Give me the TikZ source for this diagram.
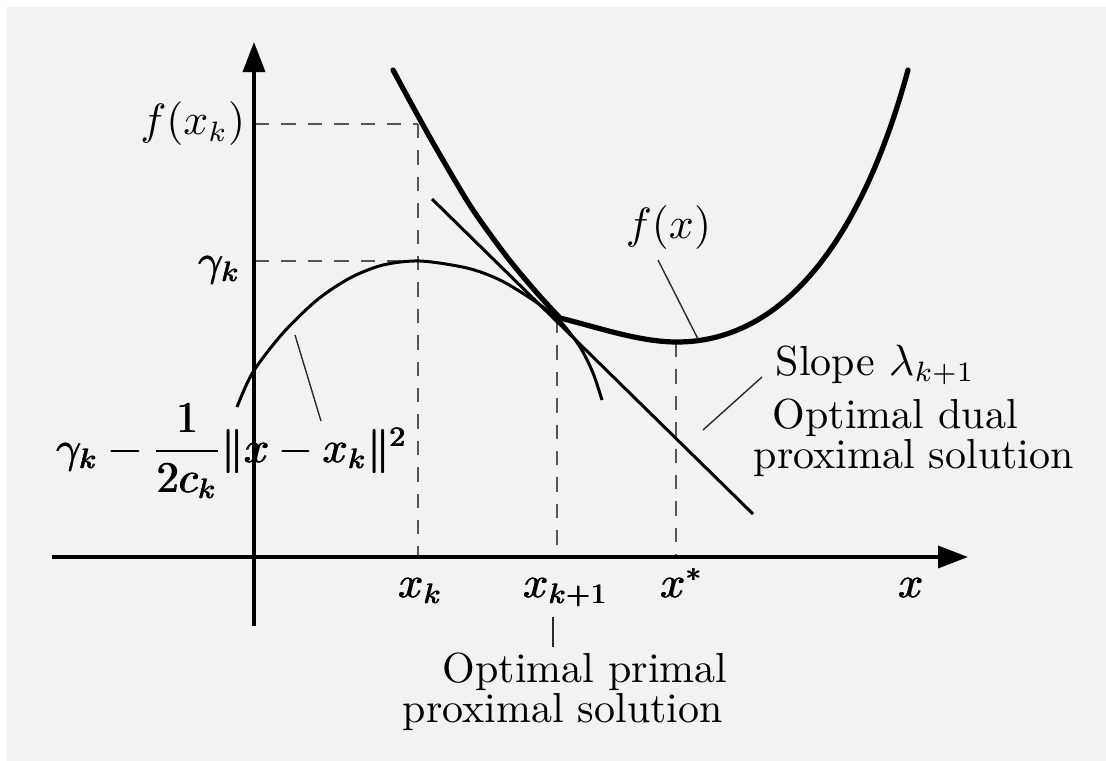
\documentclass[tikz,border=0pt]{standalone}
\usepackage{amsmath,amssymb}
\usepackage{tikz}
\usetikzlibrary{arrows.meta,positioning}
\definecolor{paper}{HTML}{F2F2F2}
\definecolor{ink}{HTML}{000000}
\definecolor{guidegray}{HTML}{555555}
\definecolor{leadgray}{HTML}{2A2A2A}
% heavier print of the math labels
\newcommand{\heavy}[1]{\leavevmode\rlap{#1}\hbox to 0pt{\kern0.28pt#1\hss}#1}
\newcommand{\proxquad}{\gamma_k-\dfrac{1}{2c_k}\|x-x_k\|^2}

\begin{document}
\begin{tikzpicture}[x=0.25pt,y=-0.25pt,
    axisline/.style={ink,line width=0.9pt,-{Triangle[length=7.5pt,width=5.5pt]}},
    fcurve/.style={ink,line width=1.3pt,line join=round,line cap=round},
    thincurve/.style={ink,line width=0.75pt},
    guide/.style={guidegray,line width=0.45pt,dash pattern=on 3.6pt off 3pt},
    leader/.style={leadgray,line width=0.35pt},
    lbl/.style={inner sep=0pt,font=\fontsize{10.5}{12.6}\selectfont}]
  \useasboundingbox (0,0) rectangle (1106,761);
  \fill[paper] (7,7) rectangle (1106,761);

  % Guides from the curves to the axes.
  \draw[guide] (255,124) -- (418,124);
  \draw[guide] (255,261) -- (418,261);
  \draw[guide] (418,124) -- (418,557);
  \draw[guide] (557,319) -- (557,557);
  \draw[guide] (676,343) -- (676,557);

  % Axes.
  \draw[axisline] (52,557) -- (968,557);
  \draw[axisline] (254,626) -- (254,42);

  % Quadratic of the proximal step and its supporting line.
  \draw[thincurve] plot[smooth] coordinates {(237,407) (253,372) (283,333)
    (317,300) (350,278) (383,265) (420,261) (467,268) (500,280) (533,300)
    (559,320) (580,347) (593,373) (602,400)};
  \draw[thincurve] (432,199) -- (753,514);

  % The cost function, with a kink at x_{k+1}.
  \draw[fcurve] plot[smooth] coordinates {(393,70) (423,125) (447,167)
    (473,210) (507,257) (537,293) (560,318)}
    .. controls (600,328) and (640,342) .. (677,342)
    .. controls (780,342) and (860,246) .. (908,70);

  % Labels.
  \node[lbl,anchor=east] (fxk) at (246,124) {$f(x_k)$};
  \node[lbl,anchor=base east] (gk) at (241,275) {\heavy{$\gamma_k$}};
  \node[lbl,anchor=base west] (xk) at (397,597) {\heavy{$x_k$}};
  \node[lbl,anchor=base west] (xk1) at (522,597) {\heavy{$x_{k+1}$}};
  \node[lbl,anchor=base west] (xstar) at (659,597) {\heavy{$x^*$}};
  \node[lbl,anchor=base west] (xaxis) at (897,597) {\heavy{$x$}};
  \node[lbl,anchor=base west] (fx) at (625,238) {$f(x)$};
  \node[lbl,anchor=base west] (quad) at (55,462) {\heavy{$\proxquad$}};
  \node[lbl,anchor=base west] (slope) at (775,375) {Slope $\lambda_{k+1}$};
  \node[lbl,anchor=base west] (dual1) at (772,428) {Optimal dual};
  \node[lbl,anchor=base west] (dual2) at (753,468) {proximal solution};
  \node[lbl,anchor=base west] (prim1) at (442,682) {Optimal primal};
  \node[lbl,anchor=base west] (prim2) at (402,722) {proximal solution};

  % Leader lines.
  \coordinate (fxfoot) at (658,260);
  \coordinate (fxtip) at (698,339);
  \coordinate (quadtop) at (321,421);
  \coordinate (quadtip) at (295,335);
  \coordinate (slopefoot) at (762,377);
  \coordinate (slopetip) at (703,430);
  \coordinate (primtop) at (553,617);
  \coordinate (primfoot) at (553,647);
  \draw[leader] (fxfoot) -- (fxtip);
  \draw[leader] (quadtop) -- (quadtip);
  \draw[leader] (slopefoot) -- (slopetip);
  \draw[leader] (primtop) -- (primfoot);
\end{tikzpicture}
\end{document}
